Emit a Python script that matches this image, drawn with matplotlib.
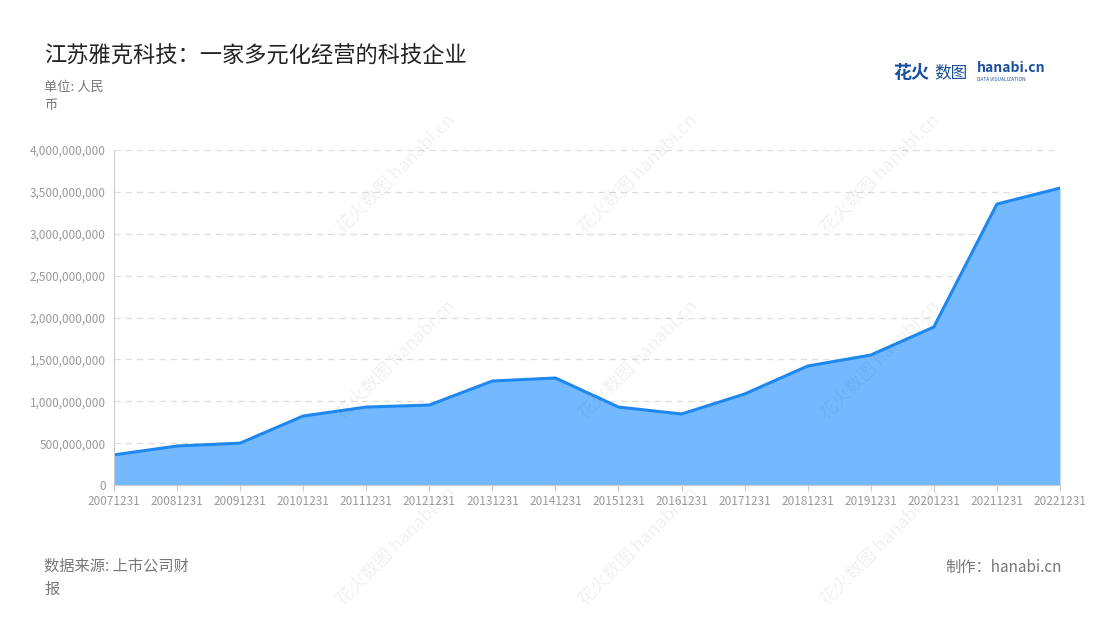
import matplotlib
matplotlib.use('Agg')
import matplotlib.pyplot as plt
from matplotlib.ticker import FuncFormatter

plt.rcParams['font.family'] = ['Noto Sans CJK SC', 'DejaVu Sans']

# 年报日期与营业收入（元）
dates = ['20071231', '20081231', '20091231', '20101231', '20111231', '20121231',
         '20131231', '20141231', '20151231', '20161231', '20171231', '20181231',
         '20191231', '20201231', '20211231', '20221231']
revenue = [360e6, 466e6, 500e6, 824e6, 931e6, 955e6, 1242e6, 1278e6,
           931e6, 848e6, 1087e6, 1421e6, 1552e6, 1887e6, 3355e6, 3546e6]

fig = plt.figure(figsize=(11, 6.2), dpi=100)
ax = fig.add_axes([0.1036, 0.2177, 0.86, 0.5403])

x = list(range(len(dates)))
ax.fill_between(x, revenue, color='#74b9ff', alpha=1.0, linewidth=0)
ax.plot(x, revenue, color='#1e88f0', linewidth=2.2)

ax.set_xlim(0, len(dates) - 1)
ax.set_ylim(0, 4e9)
ax.set_yticks([i * 5e8 for i in range(9)])
ax.yaxis.set_major_formatter(FuncFormatter(lambda v, p: f'{int(v):,}'))
ax.set_xticks(x)
ax.set_xticklabels(dates)
ax.tick_params(axis='both', labelsize=8.5, colors='#999999', length=4)
ax.tick_params(axis='x', length=4, color='#cccccc')
ax.tick_params(axis='y', length=0, pad=6)
ax.grid(axis='y', linestyle=(0, (5, 4)), color='#dddddd', linewidth=0.9)
ax.set_axisbelow(True)
for s in ['top', 'right']:
    ax.spines[s].set_visible(False)
ax.spines['left'].set_color('#cccccc')
ax.spines['bottom'].set_color('#cccccc')

fig.text(0.04, 0.91, '江苏雅克科技：一家多元化经营的科技企业', fontsize=16, color='#222222', va='center')
fig.text(0.04, 0.845, '单位: 人民\n币', fontsize=9.5, color='#777777', va='center', linespacing=1.5)
fig.text(0.04, 0.068, '数据来源: 上市公司财\n报', fontsize=11, color='#777777', va='center', linespacing=1.5)
fig.text(0.965, 0.085, '制作：hanabi.cn', fontsize=11, color='#777777', ha='right', va='center')
fig.text(0.812, 0.883, '花火', fontsize=13, color='#1a4f9c', fontweight='bold', va='center')
fig.text(0.849, 0.883, '数图', fontsize=12, color='#1a4f9c', va='center')
fig.text(0.888, 0.89, 'hanabi.cn', fontsize=10, color='#1a4f9c', fontweight='bold', va='center')
fig.text(0.888, 0.872, 'DATA VISUALIZATION', fontsize=3.5, color='#1a4f9c', va='center')

# 水印
for wx in [0.36, 0.58, 0.8]:
    for wy in [0.2, 0.5, 0.8]:
        fig.text(wx, wy - 0.08, '花火数图 hanabi.cn', fontsize=13, color='#000000', alpha=0.06,
                 rotation=45, ha='center', va='center')

fig.savefig('out.png', dpi=100)
